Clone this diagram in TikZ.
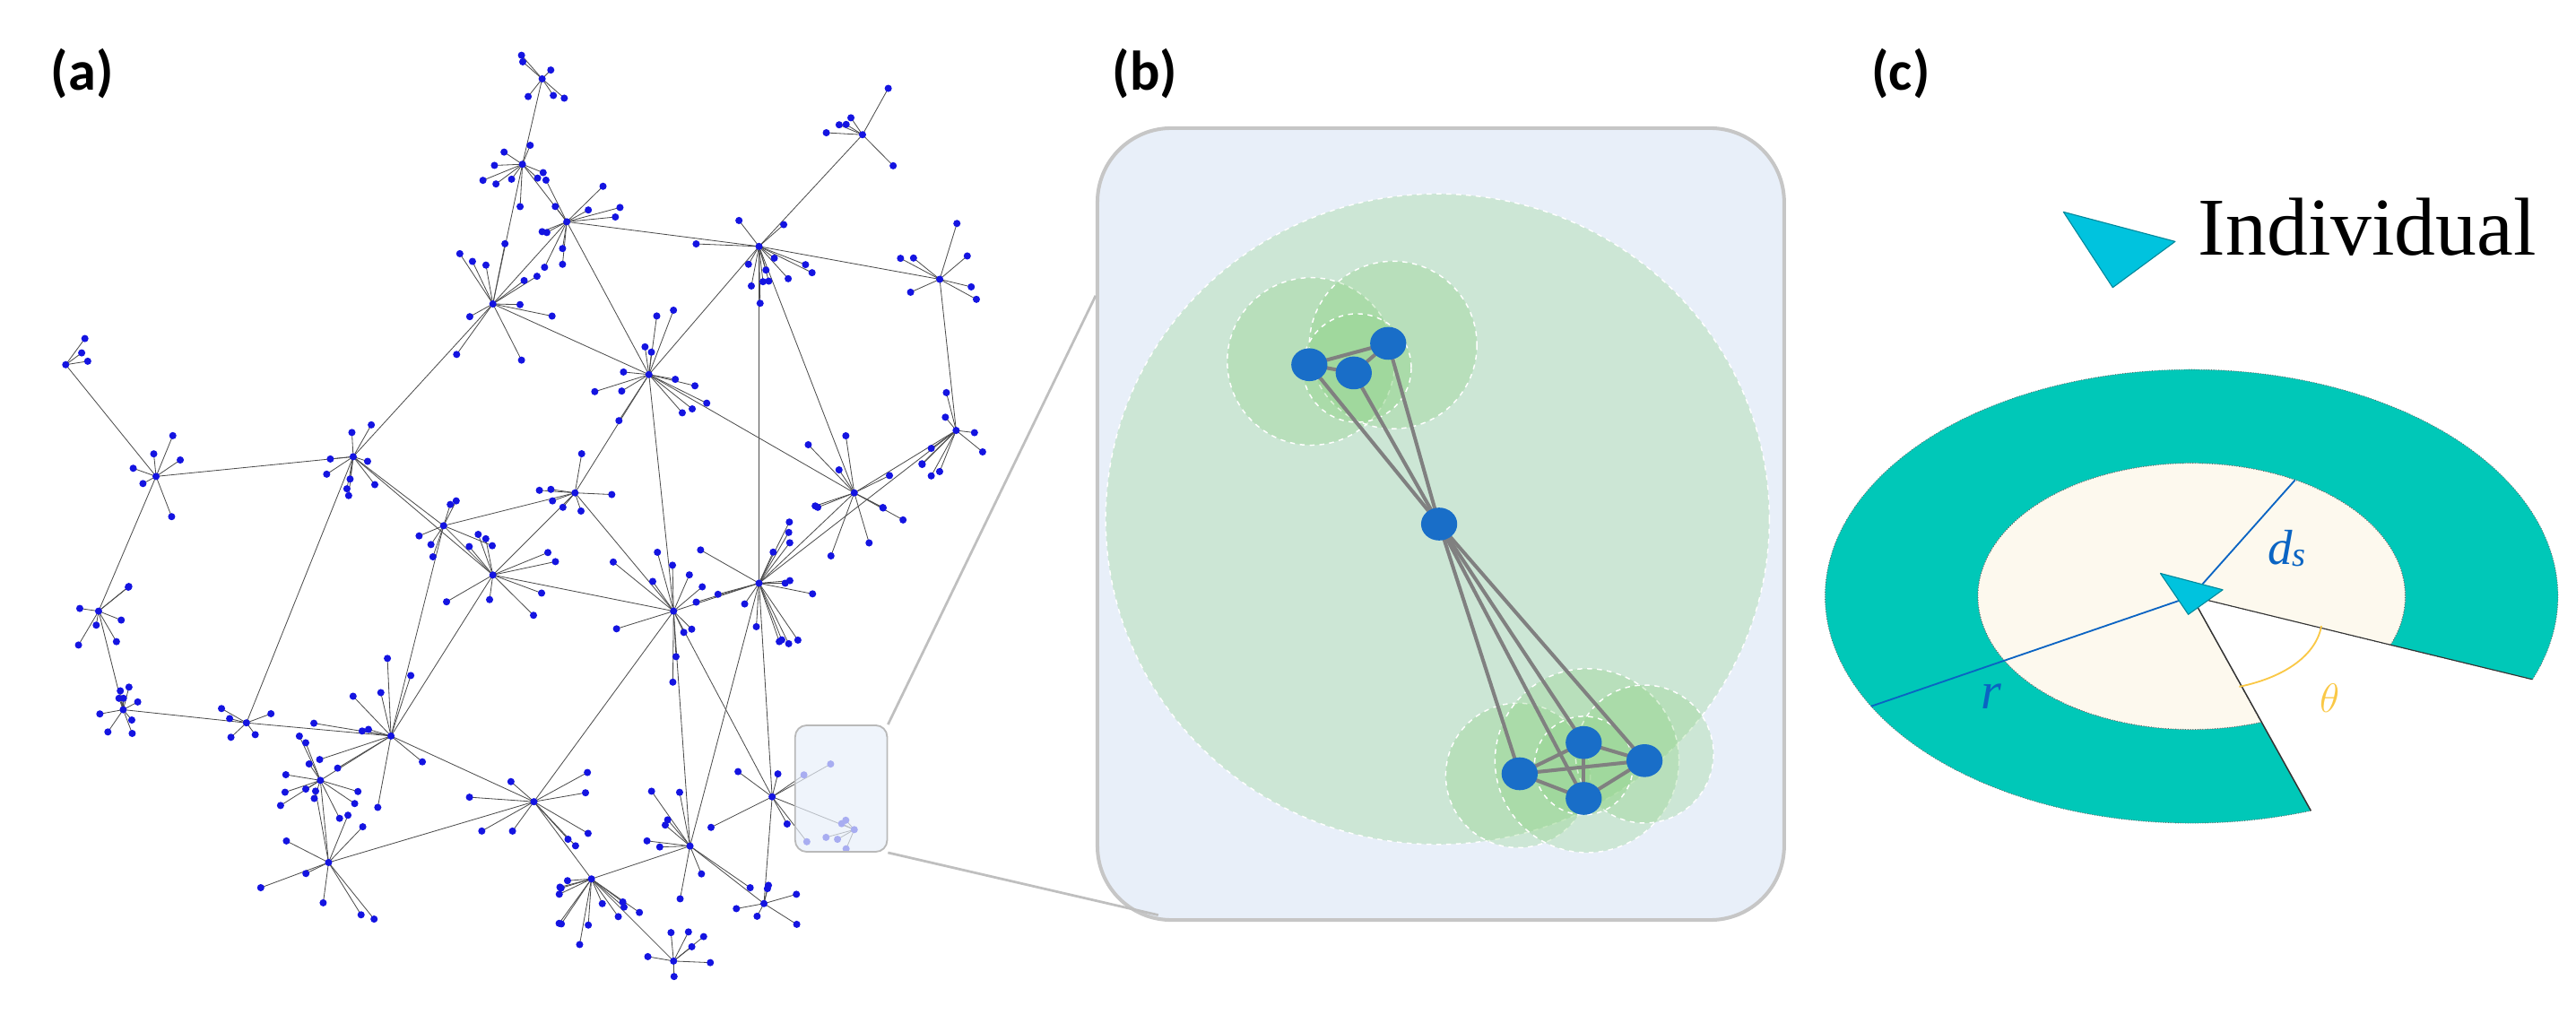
\documentclass[tikz,border=0pt]{standalone}
\usepackage{fontspec}
\setmainfont{Liberation Serif}
\newfontfamily\labfont{Carlito}
\usetikzlibrary{calc,shapes.geometric}
\definecolor{netblue}{RGB}{20,20,225}
\definecolor{dotblue}{RGB}{25,110,200}
\definecolor{boxfill}{RGB}{232,239,249}
\definecolor{ringteal}{RGB}{0,200,184}
\definecolor{cream}{RGB}{253,249,238}
\definecolor{linblue}{RGB}{10,100,195}
\definecolor{angyellow}{RGB}{250,200,70}
\definecolor{agentcyan}{RGB}{0,195,222}
\tikzset{
  edge/.style={gray!60!black,line width=0.45pt},
  dot/.style={circle,fill=netblue,inner sep=0pt,minimum size=4.4pt},
  bnode/.style={ellipse,fill=dotblue,inner sep=0pt,minimum width=22pt,minimum height=20pt},
  bedge/.style={gray,line width=2.2pt},
  zone/.style={fill={rgb,255:red,140;green,210;blue,130},fill opacity=.3,draw=white,dashed,line width=.8pt},
  panel/.style={font=\labfont\bfseries\fontsize{34}{40}\selectfont},
  agent/.style={fill=agentcyan,draw=agentcyan!70!black,line width=.6pt,line join=round}
}
\begin{document}
\begin{tikzpicture}[x=1pt,y=-1pt]
\useasboundingbox (0,0) rectangle (1568,628);
\pgfmathsetseed{7}
% (a) network
\foreach \x/\y/\n/\s [count=\i] in {330/48/6/14,318/100/9/22,345/135/11/25,300/185/11/28,
  395/228/13/30,462/150/13/28,525/82/6/25,572/170/7/28,582/262/9/25,520/300/11/30,
  462/355/16/30,410/372/11/35,300/350/9/30,215/278/9/18,95/290/6/20,40/222/3/25,
  60/372/7/20,75/432/9/12,238/448/11/35,195/475/11/22,325/488/9/30,360/535/13/35,
  420/515/9/35,470/485/7/30,520/505/5/14,200/525/9/35,410/585/7/20,465/550/6/20,
  150/440/5/20,270/320/6/25,350/300/7/25}{
  \coordinate (h\i) at (\x,\y);
  \foreach \k in {1,...,\n}{
    \pgfmathsetmacro\ang{rnd*360}
    \pgfmathsetmacro\dist{\s*(0.4+rnd)}
    \coordinate (l\i-\k) at ($(h\i)+(\ang:\dist)$);
    \draw[edge] (h\i) -- (l\i-\k);
  }
}
\foreach \a/\b in {1/2,2/3,3/4,3/5,4/5,5/6,6/7,6/8,8/9,9/10,10/11,11/12,12/5,12/13,13/14,
  14/15,15/16,13/30,30/14,31/5,31/12,31/13,11/6,11/24,24/25,12/23,23/22,22/21,21/19,
  19/20,19/29,29/18,18/17,17/15,20/26,21/26,22/27,23/28,12/21,13/19,4/14,9/11,28/24,
  31/30,5/10,3/6,12/24,2/4,6/10,11/23,19/30,14/29}
  \draw[edge] (h\a) -- (h\b);
\foreach \n [count=\i] in {6,9,11,11,13,13,6,7,9,11,16,11,9,9,6,3,7,9,11,11,9,13,9,7,5,9,7,6,5,6,7}{
  \node[dot] (d\i) at (h\i) {};
  \foreach \k in {1,...,\n} \node[dot] (d\i-\k) at (l\i-\k) {};
}
\node[draw=gray!55,fill=boxfill,fill opacity=.7,rounded corners=7pt,line width=1pt,
  minimum width=56pt,minimum height=77pt] (zoombox) at (512,480) {};
\node[panel] (la) at (50,45) {(a)};
% (b) zoomed community
\node[draw=gray!45,fill=boxfill,rounded corners=45pt,line width=2.2pt,
  minimum width=418pt,minimum height=482pt] (bbox) at (877,319) {};
\draw[gray!50,line width=1.5pt] (zoombox.north east) -- (bbox.west |- 0,180);
\draw[gray!50,line width=1.5pt] (zoombox.south east) -- (705,557);
\node[panel] (lb) at (697,45) {(b)};
\fill[zone] (875,316) ellipse[x radius=202,y radius=198];
\foreach \cx/\cy/\r in {798/220/51,848/210/51,826/224/33,924/472/44,966/463/56,1001/459/42,964/466/30}
  \fill[zone] (\cx,\cy) circle[radius=\r];
\foreach \x/\y [count=\i] in {797/222,845/209,824/227,876/319,925/471,964/452,1001/463,964/486}
  \coordinate (b\i) at (\x,\y);
\foreach \a/\b in {1/2,1/3,3/2,1/4,3/4,2/4,4/5,4/6,4/7,4/8,5/6,5/7,5/8,6/7,6/8,7/8}
  \draw[bedge] (b\a) -- (b\b);
\foreach \i in {1,...,8} \node[bnode] (bn\i) at (b\i) {};
% (c) perception ring
\node[panel] (lc) at (1157,45) {(c)};
\coordinate (cen) at (1334,363);
\filldraw[fill=ringteal,draw=black!60,densely dotted,line width=.5pt] ($(cen)+(71:223 and 138)$)
  arc[start angle=71,end angle=381.5,x radius=223,y radius=138]
  -- ($(cen)+(381.5:130 and 81)$)
  arc[start angle=381.5,end angle=71,x radius=130,y radius=81] -- cycle;
\filldraw[fill=cream,draw=black!60,densely dotted,line width=.5pt] (cen) -- ($(cen)+(71:130 and 81)$)
  arc[start angle=71,end angle=381.5,x radius=130,y radius=81] -- cycle;
\draw[black!80,line width=.8pt] (cen) -- ($(cen)+(71:223 and 138)$);
\draw[black!80,line width=.6pt] (cen) -- ($(cen)+(21.5:223 and 138)$);
\draw[linblue,line width=1pt] (cen) -- ($(cen)+(-61:130 and 81)$);
\draw[linblue,line width=1pt] (cen) -- ($(cen)+(151:223 and 138)$);
\draw[angyellow,line width=1pt] (1363,418) .. controls (1392,412) and (1410,398) .. (1413,381);
\node[text=linblue,font=\itshape\fontsize{30}{34}\selectfont] (ds) at (1392,334) {d\raisebox{-1pt}{\fontsize{21}{22}\selectfont s}};
\node[text=linblue,font=\itshape\fontsize{32}{34}\selectfont] (rl) at (1212,424) {r};
\node[text=angyellow,font=\fontsize{30}{34}\selectfont] (th) at (1418,425) {$\theta$};
\draw[agent] (1315,349) -- (1353,359) -- (1332,374) -- cycle;
\draw[agent] (1256,129) -- (1324,147) -- (1286,175) -- cycle;
\node[anchor=west,font=\fontsize{50}{56}\selectfont,inner sep=0pt] (ind) at (1338,138) {Individual};
\end{tikzpicture}
\end{document}
